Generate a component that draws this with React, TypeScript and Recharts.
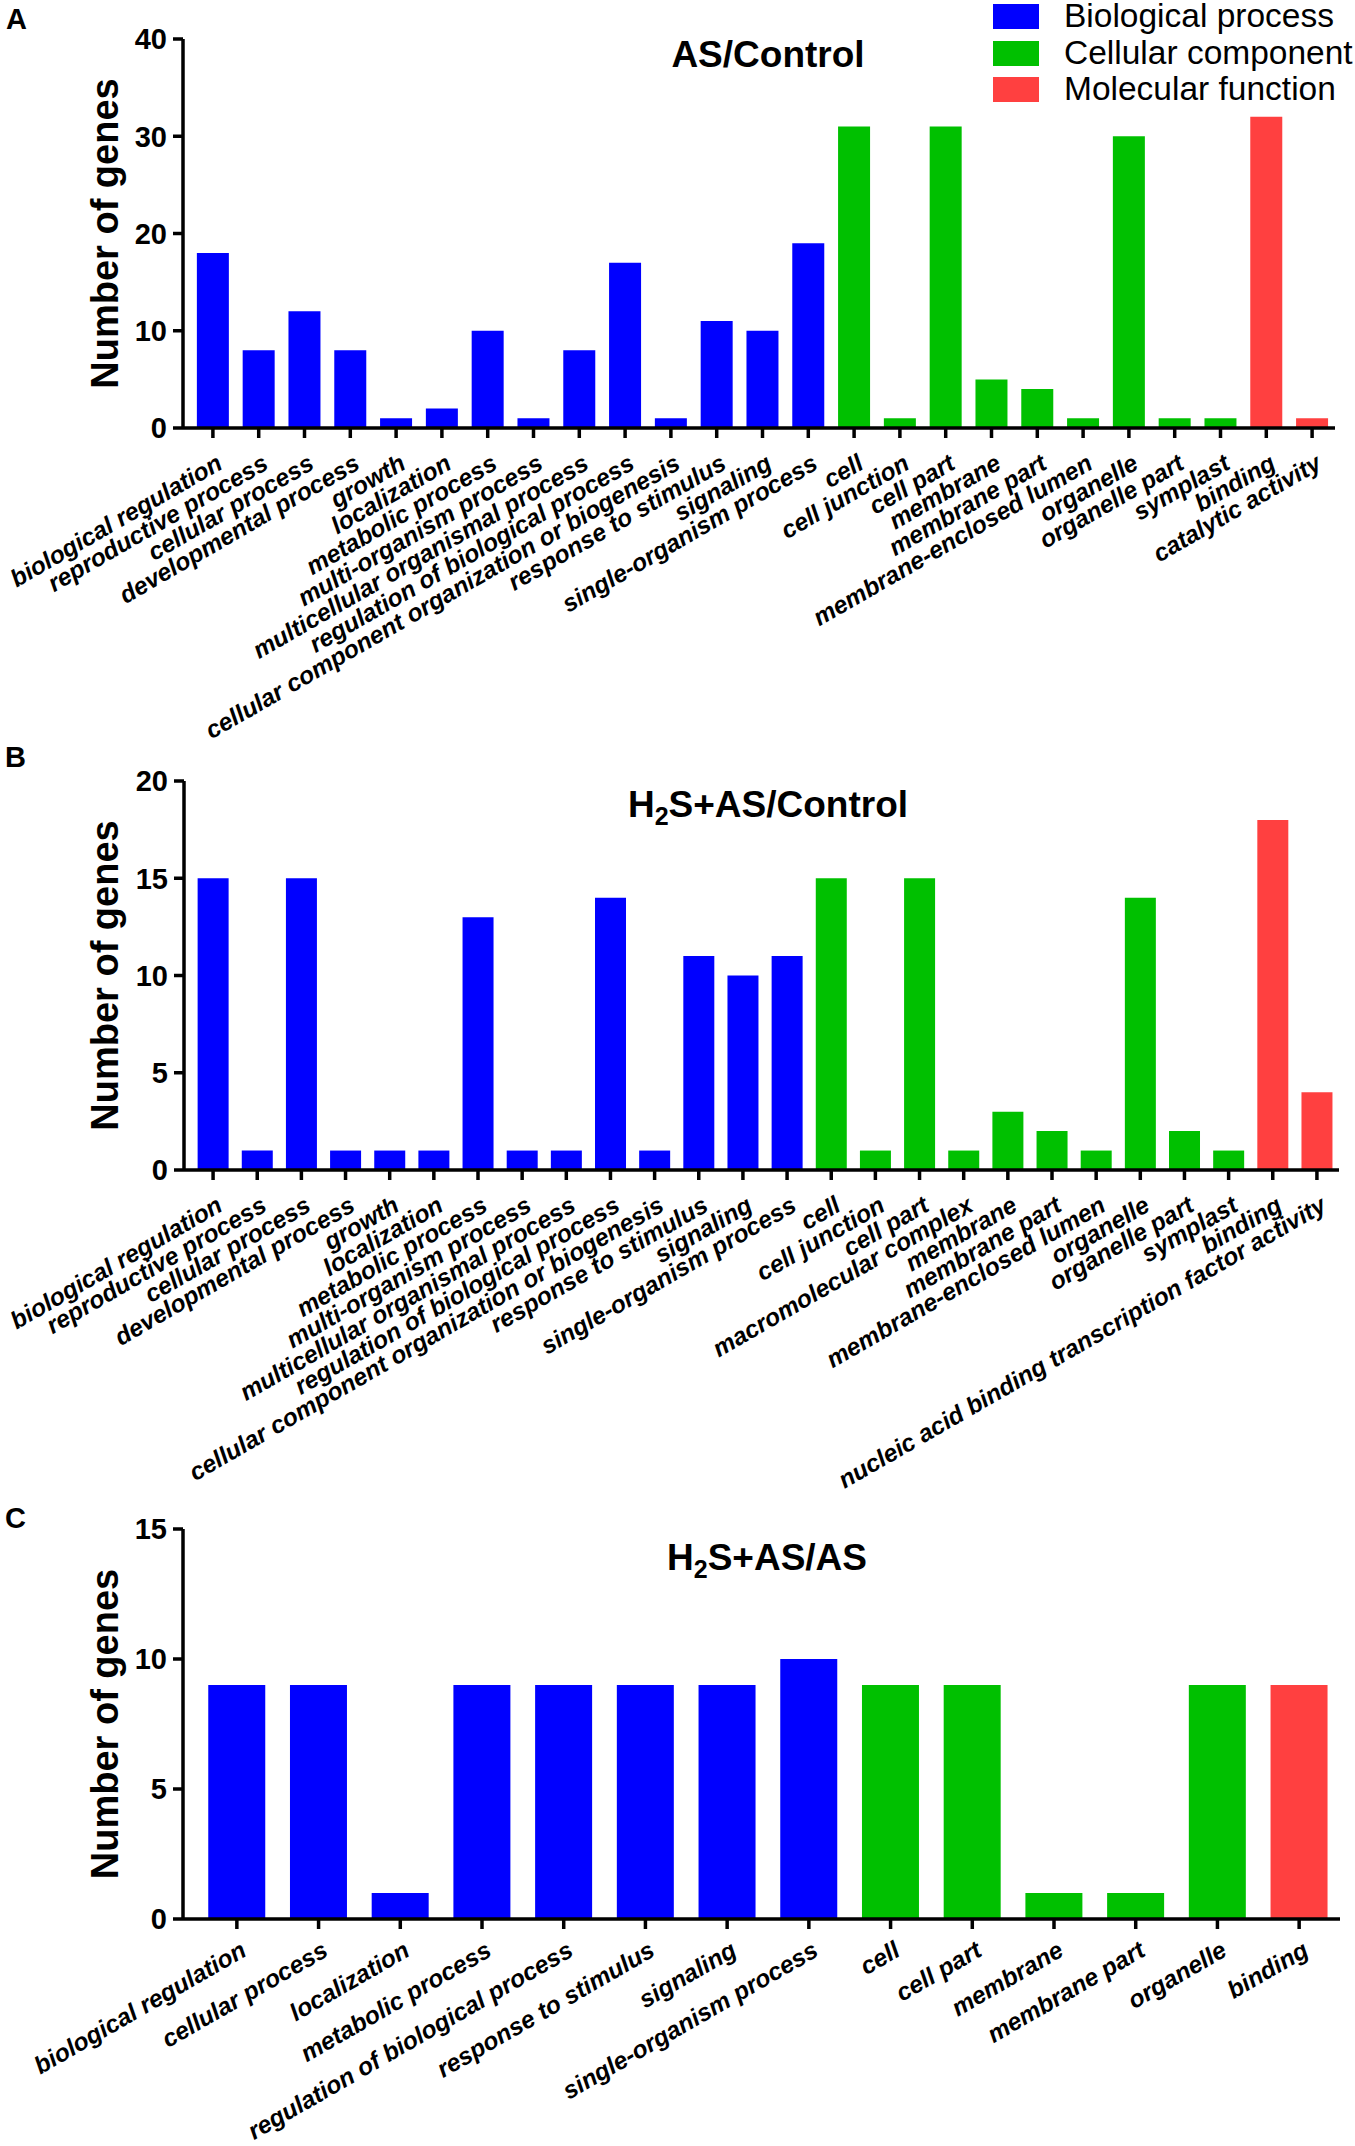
import { BarChart, Bar, XAxis, YAxis, Cell, Legend } from "recharts";

const FONT = "'Liberation Sans', Arial, Helvetica, sans-serif";

const GROUPS = ["Biological process", "Cellular component", "Molecular function"];
const GROUP_COLORS = ["#0000ff", "#00c000", "#ff4040"];

// A: AS/Control
const aBioTerms = [
  "biological regulation",
  "reproductive process",
  "cellular process",
  "developmental process",
  "growth",
  "localization",
  "metabolic process",
  "multi-organism process",
  "multicellular organismal process",
  "regulation of biological process",
  "cellular component organization or biogenesis",
  "response to stimulus",
  "signaling",
  "single-organism process",
];
const aBioCounts = [18, 8, 12, 8, 1, 2, 10, 1, 8, 17, 1, 11, 10, 19];
const aCellTerms = [
  "cell",
  "cell junction",
  "cell part",
  "membrane",
  "membrane part",
  "membrane-enclosed lumen",
  "organelle",
  "organelle part",
  "symplast",
];
const aCellCounts = [31, 1, 31, 5, 4, 1, 30, 1, 1];
const aMolTerms = ["binding", "catalytic activity"];
const aMolCounts = [32, 1];

// B: H2S+AS/Control
const bBioTerms = aBioTerms;
const bBioCounts = [15, 1, 15, 1, 1, 1, 13, 1, 1, 14, 1, 11, 10, 11];
const bCellTerms = [
  "cell",
  "cell junction",
  "cell part",
  "macromolecular complex",
  "membrane",
  "membrane part",
  "membrane-enclosed lumen",
  "organelle",
  "organelle part",
  "symplast",
];
const bCellCounts = [15, 1, 15, 1, 3, 2, 1, 14, 2, 1];
const bMolTerms = ["binding", "nucleic acid binding transcription factor activity"];
const bMolCounts = [18, 4];

// C: H2S+AS/AS
const cBioTerms = [
  "biological regulation",
  "cellular process",
  "localization",
  "metabolic process",
  "regulation of biological process",
  "response to stimulus",
  "signaling",
  "single-organism process",
];
const cBioCounts = [9, 9, 1, 9, 9, 9, 9, 10];
const cCellTerms = ["cell", "cell part", "membrane", "membrane part", "organelle"];
const cCellCounts = [9, 9, 1, 1, 9];
const cMolTerms = ["binding"];
const cMolCounts = [9];

const aTicks = [0, 10, 20, 30, 40];
const bTicks = [0, 5, 10, 15, 20];
const cTicks = [0, 5, 10, 15];

function buildRows(terms: string[][], counts: number[][]) {
  return terms.flatMap((list, g) =>
    list.map((term, i) => ({ term, count: counts[g][i], group: g }))
  );
}

const rowsA = buildRows([aBioTerms, aCellTerms, aMolTerms], [aBioCounts, aCellCounts, aMolCounts]);
const rowsB = buildRows([bBioTerms, bCellTerms, bMolTerms], [bBioCounts, bCellCounts, bMolCounts]);
const rowsC = buildRows([cBioTerms, cCellTerms, cMolTerms], [cBioCounts, cCellCounts, cMolCounts]);

function SlantTick({ x, y, payload, lift = 0 }: any) {
  const tx = x + 11;
  const ty = y + 30 - lift;
  return (
    <text
      x={tx}
      y={ty}
      transform={`rotate(-30, ${tx}, ${ty})`}
      textAnchor="end"
      fontSize={24.5}
      fontWeight="bold"
      fontStyle="italic"
      fontFamily={FONT}
      fill="#000"
    >
      {payload.value}
    </text>
  );
}

function YTitle({ viewBox }: any) {
  const cx = 118;
  const cy = viewBox.y + viewBox.height / 2;
  return (
    <text
      x={cx}
      y={cy}
      transform={`rotate(-90, ${cx}, ${cy})`}
      textAnchor="middle"
      fontSize={38}
      fontWeight="bold"
      fontFamily={FONT}
      fill="#000"
    >
      Number of genes
    </text>
  );
}

function GroupLegend() {
  return (
    <div style={{ position: "relative", width: 362, height: 110, fontFamily: FONT }}>
      {GROUPS.map((g, i) => (
        <div key={g}>
          <div
            style={{
              position: "absolute",
              left: 0,
              top: 4 + i * 36.5,
              width: 46,
              height: 25,
              background: GROUP_COLORS[i],
            }}
          />
          <div
            style={{
              position: "absolute",
              left: 71,
              top: -1 + i * 36.5,
              fontSize: 33.5,
              lineHeight: "33px",
              whiteSpace: "nowrap",
              color: "#000",
            }}
          >
            {g}
          </div>
        </div>
      ))}
    </div>
  );
}

const axisStroke = { stroke: "#000", strokeWidth: 3.5 };

function Panel({ top, height, margin, padLeft, rows, max, ticks, xHeight, legend, lift }: any) {
  return (
    <div style={{ position: "absolute", left: 0, top }}>
      <BarChart
        width={1355}
        height={height}
        data={rows}
        margin={margin}
        barCategoryGap="15%"
      >
        <XAxis
          dataKey="term"
          type="category"
          interval={0}
          height={xHeight}
          padding={{ left: padLeft, right: 0 }}
          axisLine={axisStroke}
          tickLine={axisStroke}
          tickSize={10}
          tickMargin={0}
          tick={<SlantTick lift={lift} />}
        />
        <YAxis
          type="number"
          domain={[0, max]}
          ticks={ticks}
          width={100}
          axisLine={axisStroke}
          tickLine={axisStroke}
          tickSize={10}
          tickMargin={6}
          tick={{ fontSize: 29, fontWeight: "bold", fill: "#000", fontFamily: FONT }}
          label={<YTitle />}
        />
        {legend && (
          <Legend
            layout="horizontal"
            verticalAlign="middle"
            align="center"
            wrapperStyle={{ position: "absolute", left: 993, top: 0, width: 362 }}
            content={() => <GroupLegend />}
          />
        )}
        <Bar dataKey="count" isAnimationActive={false}>
          {rows.map((r: any, i: number) => (
            <Cell key={i} fill={GROUP_COLORS[r.group]} />
          ))}
        </Bar>
      </BarChart>
    </div>
  );
}

function Overlay() {
  const letter = { fontSize: 29, fontWeight: "bold", fontFamily: FONT, fill: "#000" } as any;
  const title = { fontSize: 37, fontWeight: "bold", fontFamily: FONT, fill: "#000", textAnchor: "middle" } as any;
  return (
    <svg
      width={1355}
      height={2146}
      style={{ position: "absolute", left: 0, top: 0, pointerEvents: "none" }}
    >
      <text x={6} y={29} {...letter}>A</text>
      <text x={5} y={767} {...letter}>B</text>
      <text x={5} y={1528} {...letter}>C</text>
      <text x={768} y={67} {...title}>AS/Control</text>
      <text x={768} y={817} {...title}>
        H<tspan fontSize={25} dy={8}>2</tspan>
        <tspan dy={-8}>S+AS/Control</tspan>
      </text>
      <text x={767} y={1570} {...title}>
        H<tspan fontSize={25} dy={8}>2</tspan>
        <tspan dy={-8}>S+AS/AS</tspan>
      </text>
    </svg>
  );
}

export default function App() {
  return (
    <div
      style={{
        position: "absolute",
        left: 0,
        top: 0,
        width: 1355,
        height: 2146,
        background: "#fff",
        fontFamily: FONT,
      }}
    >
      <Panel
        top={0}
        height={760}
        margin={{ top: 39, right: 20, left: 83, bottom: 32 }}
        padLeft={7}
        rows={rowsA}
        max={40}
        ticks={aTicks}
        xHeight={300}
        lift={0}
        legend
      />
      <Panel
        top={760}
        height={750}
        margin={{ top: 21, right: 16, left: 84, bottom: 40 }}
        padLeft={7}
        rows={rowsB}
        max={20}
        ticks={bTicks}
        xHeight={300}
        lift={0}
      />
      <Panel
        top={1510}
        height={636}
        margin={{ top: 19, right: 15, left: 83, bottom: 27 }}
        padLeft={13}
        rows={rowsC}
        max={15}
        ticks={cTicks}
        xHeight={200}
        lift={4}
      />
      <Overlay />
    </div>
  );
}
